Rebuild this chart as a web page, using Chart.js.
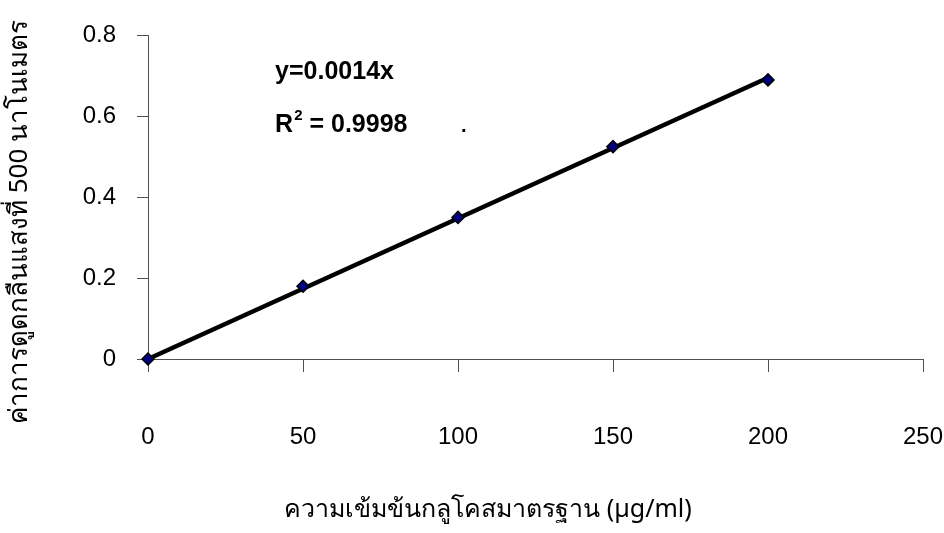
<!DOCTYPE html>
<html>
<head>
<meta charset="utf-8">
<script src="https://cdn.jsdelivr.net/npm/chart.js@4.4.1/dist/chart.umd.min.js"></script>
<style>
  html, body { margin: 0; padding: 0; background: #fff; }
  #wrap { width: 944px; height: 533px; position: relative; }
</style>
</head>
<body>
<div id="wrap"><canvas id="glucoseChart"></canvas></div>
<script>
// glucose standard curve
const concentrations = [0, 50, 100, 150, 200];
const absorbance = [0, 0.18, 0.35, 0.525, 0.69];
const xTicks = [0, 50, 100, 150, 200, 250];
const yTicks = [0, 0.2, 0.4, 0.6, 0.8];
const xTitle = "ความเข้มข้นกลูโคสมาตรฐาน (µg/ml)";
const yTitle = "ค่าการดูดกลืนแสงที่ 500 นาโนเมตร";
const equationText = "y=0.0014x";
const r2Value = " = 0.9998";

// least squares line forced through the origin
const slope = concentrations.reduce((s, x, i) => s + x * absorbance[i], 0) /
  concentrations.reduce((s, x) => s + x * x, 0);
const trendX = [concentrations[0], concentrations[concentrations.length - 1]];

const axisColor = "#505050";
const tickFont = { family: "'Liberation Sans', Arial, sans-serif", size: 24 };
const thaiFamily = "'Noto Sans', 'DejaVu Sans', sans-serif";
const boldFont = (px) => "bold " + px + "px 'Liberation Sans', Arial, sans-serif";

// equation + R² text, placed in data units
const equationLabel = {
  id: "equationLabel",
  afterDatasetsDraw(chart) {
    const { ctx, scales: { x, y } } = chart;
    const left = x.getPixelForValue(41);
    const row2 = y.getPixelForValue(0.56);
    ctx.save();
    ctx.fillStyle = "#000";
    ctx.textBaseline = "alphabetic";
    ctx.textAlign = "left";
    ctx.font = boldFont(25);
    ctx.fillText(equationText, left, y.getPixelForValue(0.692));

    // R with a raised small 2
    ctx.fillText("R", left, row2);
    let cx = left + ctx.measureText("R").width;
    ctx.font = boldFont(15);
    ctx.fillText("2", cx + 1, row2 - 12);
    cx += ctx.measureText("2").width + 1;
    ctx.font = boldFont(25);
    ctx.fillText(r2Value, cx, row2);

    ctx.font = boldFont(20);
    ctx.fillText(".", x.getPixelForValue(101), row2);
    ctx.restore();
  }
};

// axis titles (the x one sits left of the axis centre)
const axisTitles = {
  id: "axisTitles",
  afterDraw(chart) {
    const { ctx } = chart;
    ctx.save();
    ctx.fillStyle = "#000";
    ctx.textAlign = "center";
    ctx.textBaseline = "middle";
    ctx.font = "25px " + thaiFamily;
    ctx.fillText(xTitle, 488, 510);
    ctx.translate(20, 222);
    ctx.rotate(-Math.PI / 2);
    ctx.font = "26px " + thaiFamily;
    ctx.fillText(yTitle, 0, 0);
    ctx.restore();
  }
};

new Chart(document.getElementById("glucoseChart"), {
  type: "scatter",
  data: {
    datasets: [
      {
        label: "trend",
        type: "line",
        data: trendX.map((x) => ({ x: x, y: slope * x })),
        borderColor: "#000",
        borderWidth: 4.5,
        pointRadius: 0,
        clip: false,
        order: 2,
      },
      {
        label: "standard",
        data: concentrations.map((x, i) => ({ x: x, y: absorbance[i] })),
        pointStyle: "rectRot",
        pointRadius: 6,
        backgroundColor: "#000080",
        borderColor: "#000",
        borderWidth: 1.5,
        clip: false,
        order: 1,
      },
    ],
  },
  options: {
    responsive: true,
    maintainAspectRatio: false,
    animation: false,
    layout: { padding: { top: 33, right: 21, left: 0, bottom: 0 } },
    plugins: {
      legend: { display: false },
      tooltip: { enabled: false },
    },
    scales: {
      x: {
        type: "linear",
        min: 0,
        max: 250,
        afterBuildTicks: (scale) => { scale.ticks = xTicks.map((v) => ({ value: v })); },
        afterFit: (scale) => {
          scale.height = 174;
          // tick padding is large here, keep it out of the side padding
          scale.paddingLeft = 0;
          scale.paddingRight = 0;
        },
        ticks: { color: "#000", font: tickFont, padding: 51 },
        grid: { drawOnChartArea: false, tickLength: 13, color: axisColor },
        border: { color: axisColor },
      },
      y: {
        min: 0,
        max: 0.8,
        afterBuildTicks: (scale) => { scale.ticks = yTicks.map((v) => ({ value: v })); },
        afterFit: (scale) => { scale.width = 148; },
        ticks: { color: "#000", font: tickFont, padding: 21 },
        grid: { drawOnChartArea: false, tickLength: 11, color: axisColor },
        border: { color: axisColor },
      },
    },
  },
  plugins: [equationLabel, axisTitles],
});
</script>
</body>
</html>
